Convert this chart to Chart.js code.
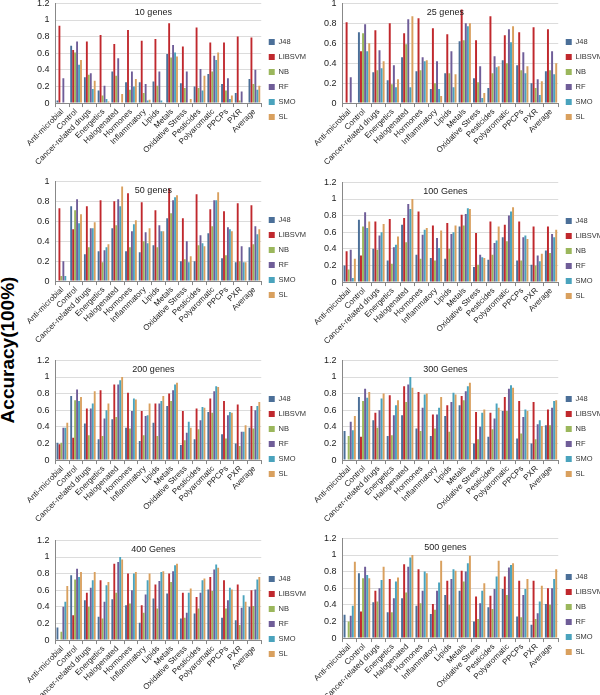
<!DOCTYPE html>
<html>
<head>
<meta charset="utf-8">
<script src="https://cdn.jsdelivr.net/npm/chart.js@4.4.0/dist/chart.umd.min.js"></script>
<style>
  html, body { margin: 0; padding: 0; background: #fff; width: 600px; height: 695px; overflow: hidden; }
  .panel { position: absolute; }
  #ylab {
    position: absolute; left: -66px; top: 338px; width: 150px; height: 24px; line-height: 24px;
    transform: rotate(-90deg); text-align: center;
    font: bold 19px "Liberation Sans", Arial, sans-serif; color: #000;
  }
</style>
</head>
<body>
<div id="ylab">Accuracy(100%)</div>

<script>
var CATEGORIES = ['Anti-microbial', 'Control', 'Cancer-related drugs', 'Energetics', 'Halogenated',
    'Hormones', 'Inflammatory', 'Lipids', 'Metals', 'Oxidative Stress', 'Pesticides',
    'Polyaromatic', 'PPCPs', 'PXR', 'Average'];
var SERIES = ['J48', 'LIBSVM', 'NB', 'RF', 'SMO', 'SL'];
var COLORS = ['#4b6f98', '#c0282d', '#9bb75c', '#6f5d98', '#4aa3bd', '#d9a05e'];

// one row per series, in SERIES order, one value per category
var genes10 = [
    [0.03, 0.69, 0.31, 0.15, 0.38, 0.25, 0.25, 0.26, 0.59, 0.24, 0.20, 0.35, 0.23, 0.12, 0.29],
    [0.93, 0.64, 0.74, 0.82, 0.71, 0.88, 0.75, 0.77, 0.96, 0.68, 0.91, 0.73, 0.73, 0.80, 0.79],
    [0, 0.61, 0.34, 0.09, 0.33, 0.16, 0.12, 0.21, 0.55, 0.18, 0.18, 0.38, 0.15, 0.03, 0.23],
    [0.30, 0.74, 0.36, 0.21, 0.54, 0.38, 0.23, 0.38, 0.70, 0.38, 0.41, 0.57, 0.30, 0.14, 0.40],
    [0, 0.46, 0.17, 0.05, 0, 0.20, 0.03, 0.03, 0.61, 0, 0.15, 0.52, 0.05, 0, 0.16],
    [0, 0.52, 0.27, 0.02, 0.11, 0.29, 0.04, 0.01, 0.56, 0.05, 0.33, 0.61, 0.09, 0, 0.21]
];
var genes25 = [
    [0, 0.71, 0.31, 0.23, 0.46, 0.32, 0.14, 0.30, 0.62, 0.25, 0.15, 0.43, 0.38, 0.20, 0.32],
    [0.81, 0.52, 0.73, 0.80, 0.70, 0.85, 0.75, 0.69, 0.94, 0.63, 0.87, 0.68, 0.71, 0.76, 0.74],
    [0, 0.70, 0.33, 0.19, 0.59, 0.33, 0.20, 0.30, 0.63, 0.21, 0.30, 0.40, 0.33, 0.15, 0.33],
    [0.26, 0.79, 0.53, 0.38, 0.84, 0.46, 0.42, 0.52, 0.80, 0.37, 0.47, 0.74, 0.51, 0.24, 0.52],
    [0, 0.52, 0.35, 0.16, 0.16, 0.42, 0.14, 0.16, 0.77, 0.05, 0.36, 0.61, 0.30, 0.08, 0.29],
    [0, 0.60, 0.42, 0.24, 0.87, 0.43, 0.07, 0.29, 0.80, 0.10, 0.37, 0.77, 0.37, 0.22, 0.40]
];
var genes50 = [
    [0, 0.75, 0.27, 0.30, 0.53, 0.30, 0.29, 0.36, 0.63, 0.20, 0.20, 0.48, 0.23, 0.19, 0.34],
    [0.73, 0.52, 0.75, 0.81, 0.80, 0.88, 0.79, 0.71, 0.93, 0.63, 0.87, 0.72, 0.70, 0.78, 0.76],
    [0.05, 0.71, 0.34, 0.19, 0.56, 0.34, 0.40, 0.34, 0.68, 0.22, 0.36, 0.55, 0.26, 0.20, 0.37],
    [0.20, 0.82, 0.53, 0.31, 0.82, 0.50, 0.49, 0.56, 0.81, 0.40, 0.46, 0.81, 0.54, 0.35, 0.55],
    [0.05, 0.58, 0.53, 0.34, 0.75, 0.57, 0.38, 0.50, 0.84, 0.19, 0.38, 0.81, 0.52, 0.19, 0.47],
    [0, 0.67, 0.59, 0.37, 0.95, 0.61, 0.53, 0.50, 0.86, 0.25, 0.35, 0.89, 0.50, 0.19, 0.52]
];
var genes100 = [
    [0.20, 0.75, 0.40, 0.26, 0.69, 0.33, 0.29, 0.28, 0.67, 0.18, 0.27, 0.54, 0.26, 0.21, 0.38],
    [0.37, 0.32, 0.73, 0.76, 0.77, 0.85, 0.68, 0.71, 0.81, 0.59, 0.73, 0.69, 0.73, 0.67, 0.67],
    [0.15, 0.67, 0.39, 0.22, 0.48, 0.28, 0.26, 0.40, 0.68, 0.21, 0.33, 0.49, 0.26, 0.20, 0.35],
    [0.39, 0.84, 0.56, 0.42, 0.94, 0.57, 0.53, 0.58, 0.82, 0.33, 0.47, 0.80, 0.54, 0.32, 0.58],
    [0.05, 0.65, 0.60, 0.45, 0.88, 0.63, 0.41, 0.60, 0.89, 0.30, 0.50, 0.85, 0.56, 0.25, 0.54],
    [0.28, 0.73, 0.70, 0.55, 1.00, 0.65, 0.62, 0.68, 0.88, 0.29, 0.67, 0.90, 0.52, 0.34, 0.63]
];
var genes200 = [
    [0.21, 0.77, 0.44, 0.25, 0.49, 0.39, 0.23, 0.45, 0.65, 0.18, 0.25, 0.58, 0.31, 0.20, 0.39],
    [0.19, 0.27, 0.62, 0.84, 0.91, 0.81, 0.59, 0.68, 0.80, 0.59, 0.62, 0.74, 0.71, 0.67, 0.65],
    [0.21, 0.72, 0.30, 0.29, 0.52, 0.38, 0.30, 0.29, 0.71, 0.24, 0.37, 0.57, 0.26, 0.17, 0.38],
    [0.39, 0.85, 0.62, 0.50, 0.91, 0.59, 0.53, 0.68, 0.84, 0.33, 0.48, 0.83, 0.54, 0.34, 0.60],
    [0.39, 0.71, 0.68, 0.60, 0.96, 0.74, 0.54, 0.71, 0.91, 0.46, 0.64, 0.89, 0.58, 0.34, 0.65],
    [0.45, 0.76, 0.83, 0.68, 1.00, 0.73, 0.68, 0.77, 0.93, 0.39, 0.63, 0.88, 0.57, 0.42, 0.70]
];
var genes300 = [
    [0.35, 0.76, 0.48, 0.29, 0.54, 0.38, 0.29, 0.53, 0.66, 0.20, 0.28, 0.59, 0.26, 0.20, 0.42],
    [0, 0.28, 0.57, 0.78, 0.89, 0.82, 0.55, 0.66, 0.77, 0.58, 0.57, 0.76, 0.71, 0.70, 0.61],
    [0.29, 0.71, 0.39, 0.30, 0.70, 0.35, 0.38, 0.34, 0.72, 0.25, 0.37, 0.59, 0.32, 0.25, 0.42],
    [0.46, 0.86, 0.60, 0.54, 0.91, 0.63, 0.55, 0.70, 0.83, 0.40, 0.50, 0.86, 0.52, 0.43, 0.63],
    [0.36, 0.75, 0.74, 0.66, 1.00, 0.79, 0.63, 0.81, 0.89, 0.57, 0.68, 0.90, 0.61, 0.48, 0.71],
    [0.53, 0.82, 0.80, 0.72, 0.87, 0.80, 0.76, 0.79, 0.93, 0.61, 0.63, 0.87, 0.59, 0.41, 0.72]
];
var genes400 = [
    [0.15, 0.78, 0.48, 0.28, 0.49, 0.42, 0.21, 0.50, 0.56, 0.26, 0.32, 0.61, 0.27, 0.24, 0.40],
    [0, 0.30, 0.57, 0.72, 0.92, 0.80, 0.42, 0.67, 0.80, 0.57, 0.52, 0.76, 0.72, 0.67, 0.60],
    [0.10, 0.73, 0.40, 0.26, 0.57, 0.44, 0.33, 0.38, 0.70, 0.27, 0.38, 0.59, 0.38, 0.18, 0.41],
    [0.40, 0.86, 0.63, 0.46, 0.94, 0.60, 0.55, 0.71, 0.83, 0.33, 0.57, 0.85, 0.48, 0.39, 0.61],
    [0.46, 0.76, 0.72, 0.66, 1.00, 0.80, 0.72, 0.82, 0.90, 0.57, 0.72, 0.91, 0.63, 0.54, 0.73],
    [0.65, 0.82, 0.82, 0.70, 0.97, 0.82, 0.80, 0.83, 0.92, 0.62, 0.74, 0.87, 0.61, 0.46, 0.76]
];
var genes500 = [
    [0.28, 0.78, 0.43, 0.31, 0.48, 0.39, 0.29, 0.52, 0.57, 0.20, 0.37, 0.59, 0.26, 0.16, 0.41],
    [0, 0.32, 0.57, 0.71, 0.89, 0.83, 0.41, 0.69, 0.81, 0.50, 0.51, 0.74, 0.69, 0.69, 0.60],
    [0.20, 0.72, 0.44, 0.31, 0.55, 0.42, 0.34, 0.40, 0.68, 0.23, 0.35, 0.52, 0.25, 0.23, 0.40],
    [0.27, 0.86, 0.60, 0.48, 0.86, 0.57, 0.57, 0.71, 0.80, 0.42, 0.59, 0.85, 0.52, 0.30, 0.60],
    [0.39, 0.76, 0.70, 0.68, 0.97, 0.80, 0.67, 0.83, 0.90, 0.57, 0.74, 0.88, 0.59, 0.44, 0.71],
    [0.92, 0.72, 0.86, 0.73, 1.00, 0.78, 0.93, 0.81, 0.99, 0.66, 0.93, 0.90, 0.71, 0.63, 0.83]
];

var FONT = '"Liberation Sans", Arial, sans-serif';

var PANELS = [
    {title: '10 genes',  data: genes10,  max: 1.2, step: 0.2, left: 0,   top: -8},
    {title: '25 genes',  data: genes25,  max: 1.0, step: 0.1, left: 300, top: -8},
    {title: '50 genes',  data: genes50,  max: 1.0, step: 0.1, left: 0,   top: 170},
    {title: '100 Genes', data: genes100, max: 1.2, step: 0.2, left: 300, top: 171},
    {title: '200 genes', data: genes200, max: 1.2, step: 0.2, left: 0,   top: 349},
    {title: '300 Genes', data: genes300, max: 1.2, step: 0.2, left: 300, top: 349},
    {title: '400 Genes', data: genes400, max: 1.2, step: 0.2, left: 0,   top: 529},
    {title: '500 genes', data: genes500, max: 1.2, step: 0.2, left: 300, top: 527}
];

// panel caption drawn inside the plot area, like the Excel charts
var innerTitle = {
    id: 'innerTitle',
    afterDraw: function (chart, args, opts) {
        var a = chart.chartArea;
        var ctx = chart.ctx;
        ctx.save();
        ctx.font = '9px ' + FONT;
        ctx.fillStyle = '#222';
        ctx.textAlign = 'center';
        ctx.textBaseline = 'middle';
        ctx.fillText(opts.text, (a.left + a.right) / 2 - 5, a.top + 9);
        ctx.restore();
    }
};

PANELS.forEach(function (p) {
    var canvas = document.createElement('canvas');
    canvas.className = 'panel';
    canvas.width = p.left ? 313 : 316;
    canvas.height = 175;
    canvas.style.left = p.left + 'px';
    canvas.style.top = p.top + 'px';
    document.body.appendChild(canvas);

    var datasets = SERIES.map(function (name, i) {
        return {
            label: name,
            data: p.data[i],
            backgroundColor: COLORS[i],
            borderWidth: 0,
            categoryPercentage: 0.86,
            barPercentage: 0.95
        };
    });

    new Chart(canvas, {
        type: 'bar',
        data: {labels: CATEGORIES, datasets: datasets},
        plugins: [innerTitle],
        options: {
            responsive: false,
            animation: false,
            layout: {padding: {left: p.left ? 18 : 31, top: 0, right: 0, bottom: 0}},
            plugins: {
                innerTitle: {text: p.title},
                tooltip: {enabled: false},
                legend: {
                    position: 'right',
                    align: 'center',
                    labels: {
                        boxWidth: 6, boxHeight: 6, padding: 7.5,
                        color: '#333', font: {family: FONT, size: 7.5}
                    }
                }
            },
            scales: {
                x: {
                    grid: {display: true, drawOnChartArea: false, tickLength: 4, color: '#888'},
                    border: {color: '#888'},
                    ticks: {
                        autoSkip: false, minRotation: 45, maxRotation: 45, padding: 0,
                        color: '#222', font: {family: FONT, size: 8}
                    }
                },
                y: {
                    min: 0, max: p.max,
                    grid: {color: '#dcdcdc', drawTicks: false},
                    border: {color: '#888'},
                    ticks: {
                        stepSize: p.step, padding: 6, color: '#222',
                        font: {family: FONT, size: 9},
                        callback: function (v) { return Math.round(v * 10) / 10; }
                    }
                }
            }
        }
    });
});
</script>
</body>
</html>
